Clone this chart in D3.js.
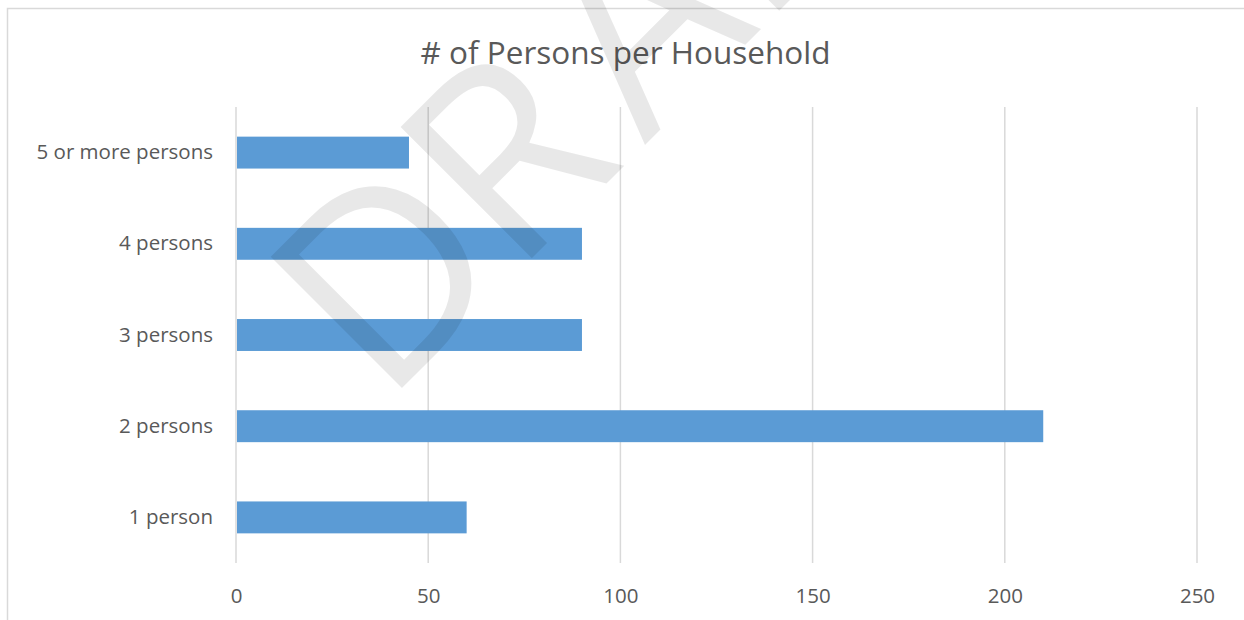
<!DOCTYPE html>
<html>
<head>
<meta charset="utf-8">
<script src="https://cdn.jsdelivr.net/npm/d3@7"></script>
<style>
  body { margin: 0; background: #fff; }
  text { font-family: "Open Sans", sans-serif; }
</style>
</head>
<body>
<script>
// household size counts
const categories = ['5 or more persons', '4 persons', '3 persons', '2 persons', '1 person']
const counts = [45, 90, 90, 210, 60]
const xTicks = [0, 50, 100, 150, 200, 250]
const title = '# of Persons per Household'
const watermark = 'DRAFT'

const width = 1244, height = 620
const margin = { top: 107, right: 47, bottom: 57, left: 236 }
const font = '"Open Sans", sans-serif'

const svg = d3.select('body').append('svg')
	.attr('width', width)
	.attr('height', height)

// chart frame
svg.append('rect')
	.attr('x', 7.5).attr('y', 8.5)
	.attr('width', 1240).attr('height', 620)
	.attr('fill', 'none')
	.attr('stroke', '#d9d9d9')
	.attr('stroke-width', 1.5)

const x = d3.scaleLinear()
	.domain([0, 250])
	.range([margin.left, width - margin.right])

const y = d3.scaleBand()
	.domain(categories)
	.range([margin.top, height - margin.bottom])
	.paddingInner(0.65)
	.paddingOuter(0.325)

// vertical gridlines
svg.append('g')
	.selectAll('line')
	.data(xTicks)
	.enter().append('line')
		.attr('x1', d => x(d)).attr('x2', d => x(d))
		.attr('y1', margin.top).attr('y2', height - margin.bottom)
		.attr('stroke', '#d9d9d9')
		.attr('stroke-width', 1.5)

// x tick labels (no axis line)
const xAxis = d3.axisBottom(x).tickValues(xTicks).tickSize(0).tickPadding(0)
svg.append('g')
	.attr('transform', 'translate(0,' + (height - margin.bottom + 25) + ')')
	.call(xAxis)
	.call(g => g.select('.domain').remove())
	.selectAll('text')
		.attr('fill', '#595959')
		.style('font-size', '20.5px')
		.style('font-family', font)

// category labels
const yAxis = d3.axisLeft(y).tickSize(0).tickPadding(23)
svg.append('g')
	.attr('transform', 'translate(' + margin.left + ',0)')
	.call(yAxis)
	.call(g => g.select('.domain').remove())
	.selectAll('text')
		.attr('fill', '#595959')
		.style('font-size', '20.5px')
		.style('font-family', font)

svg.append('g')
	.selectAll('rect')
	.data(categories)
	.enter().append('rect')
		.attr('x', x(0) + 1)
		.attr('y', d => y(d))
		.attr('width', (d, i) => x(counts[i]) - x(0) - 1)
		.attr('height', y.bandwidth())
		.attr('fill', '#5b9bd5')

svg.append('text')
	.attr('x', 625.5)
	.attr('y', 64)
	.attr('text-anchor', 'middle')
	.attr('fill', '#595959')
	.style('font-size', '31.5px')
	.text(title)

// DRAFT watermark over everything, runs off the top like the original
// dx nudges letters so spacing is closer to the original font
svg.append('text')
	.attr('transform', 'translate(384,406) rotate(-45)')
	.attr('dx', '0 -5 25 0 0')
	.attr('fill', '#000')
	.attr('fill-opacity', 0.09)
	.style('font-size', '260px')
	.text(watermark)
</script>
</body>
</html>
